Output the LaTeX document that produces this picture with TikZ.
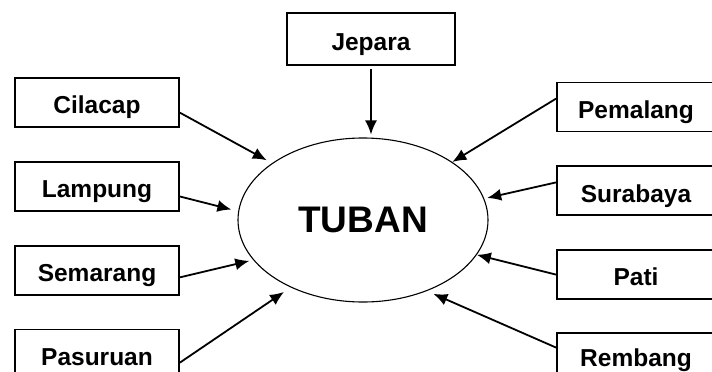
\documentclass[tikz,border=0pt]{standalone}
\usepackage{fontspec}
\setmainfont{Liberation Sans}
\usetikzlibrary{positioning}
\usetikzlibrary{arrows.meta}
\usetikzlibrary{shapes.geometric}

\begin{document}
\begin{tikzpicture}[x=1pt, y=-1pt, ->, >={Latex[length=14pt,width=12pt]}, line width=1.8pt, node distance=33pt]
    \tikzstyle{city}=[draw=black,rectangle,fill=none,minimum width=164pt,minimum height=49pt, inner sep=0pt, text height=22.5pt, text depth=0pt, font=\fontsize{24.5}{28}\selectfont\bfseries]
    \tikzstyle{hub}=[draw=black,ellipse,line width=1.1pt,minimum width=250pt,minimum height=164pt, inner sep=0pt, font=\fontsize{37}{42}\selectfont\bfseries]

    \useasboundingbox (0,0) rectangle (712,372);

    \node[hub] (tuban) at (363,220) {TUBAN};
    \node[city, minimum width=168pt, minimum height=52pt] (jep) at (371,39) {Jepara};

    % left column
    \node[city] (cil) at (97,102.5) {Cilacap};
    \node[city, below=of cil] (lam) {Lampung};
    \node[city, below=of lam] (sem) {Semarang};
    \node[city, below=of sem] (pas) {Pasuruan};

    % right column
    \node[city, minimum width=158pt] (pem) at (636,107) {Pemalang};
    \node[city, minimum width=158pt, below=of pem] (sur) {Surabaya};
    \node[city, minimum width=158pt, below=of sur] (pat) {Pati};
    \node[city, minimum width=158pt, text height=19pt, below=32pt of pat] (rem) {Rembang};

    \path (jep.south) edge[shorten <=3pt, shorten >=3pt] (jep.south |- tuban.north);
    \path (cil.-7) edge[shorten >=6pt] (tuban.148);
    \path (lam.-7) edge[shorten >=7pt] (tuban.176);
    \path (sem.-5) edge[shorten >=4pt] (tuban.200);
    \path (pas.-6) edge[shorten >=8pt] (tuban.223);

    \path (pem.174) edge (tuban.33);
    \path (sur.174) edge[shorten >=3pt] (tuban.10);
    \path (pat.west) edge (tuban.-17);
    \path (rem.173) edge[shorten >=7pt] (tuban.-48);
\end{tikzpicture}
\end{document}
